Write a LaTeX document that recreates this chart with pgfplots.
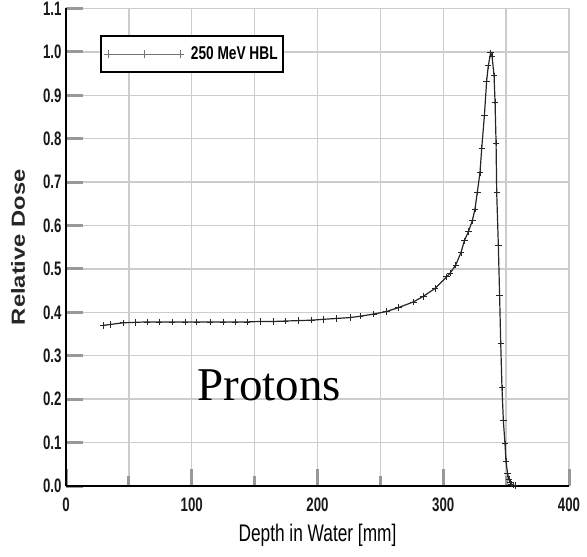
\documentclass[border=0pt]{standalone}
\usepackage{pgfplots}
\pgfplotsset{compat=1.18}
\usepackage{fontspec}
\setmainfont{Liberation Sans}
\newfontfamily\narrowsans[FakeStretch=0.68]{Liberation Sans}
\newfontfamily\legsans[FakeStretch=0.74]{Liberation Sans}
\newfontfamily\labsans[FakeStretch=0.72]{Liberation Sans}
\newfontfamily\widesans[FakeStretch=1.25]{Liberation Sans}
\newfontfamily\protfont{Liberation Serif}
\usetikzlibrary{calc}

\pgfplotstableread{
x y
29.4 0.370
35.0 0.372
45.3 0.376
54.9 0.377
64.4 0.378
74.0 0.378
84.3 0.378
94.6 0.378
104.0 0.378
114.5 0.378
124.9 0.378
134.4 0.378
144.0 0.378
154.3 0.379
164.9 0.379
174.2 0.380
184.7 0.381
195.4 0.382
204.6 0.384
215.3 0.386
225.9 0.388
233.8 0.391
244.4 0.396
255.0 0.402
264.3 0.411
276.2 0.424
284.2 0.437
293.4 0.455
302.7 0.482
305.4 0.490
309.9 0.509
314.1 0.538
316.8 0.565
320.0 0.586
323.1 0.611
325.2 0.638
327.1 0.677
329.2 0.722
330.6 0.778
332.7 0.853
334.5 0.933
335.8 0.968
337.7 0.998
338.8 0.990
340.4 0.945
341.2 0.883
342.0 0.790
342.5 0.677
343.8 0.555
344.8 0.440
345.7 0.329
346.7 0.226
347.8 0.150
349.1 0.097
349.9 0.056
351.2 0.029
352.2 0.015
353.0 0.008
354.0 0.004
355.5 0.002
357.0 0.001
}\dosedata

\begin{document}
\begin{tikzpicture}
\begin{axis}[
  scale only axis,
  width=503pt, height=477.5pt,
  xmin=0, xmax=400, ymin=0, ymax=1.1,
  xtick distance=100, ytick distance=0.1,
  minor x tick num=1,
  axis x line*=bottom, axis y line*=left,
  axis line style={-, line width=2.6pt, black},
  tick align=inside,
  major tick length=17pt, minor tick length=10pt,
  every tick/.style={line width=3pt, black!40},
  grid=both,
  major grid style={line width=1.4pt, black!20},
  minor grid style={line width=1.4pt, black!20},
  /pgf/number format/assume math mode=true,
  yticklabel style={/pgf/number format/fixed, /pgf/number format/fixed zerofill, /pgf/number format/precision=1, xshift=-1pt},
  xticklabel style={yshift=-8pt},
  tick label style={font=\narrowsans\bfseries\fontsize{19.5}{22}\selectfont, text=black!90},
  xlabel={Depth in Water [mm]},
  xlabel style={font=\labsans\fontsize{24}{26}\selectfont, text=black, at={(axis description cs:0.5,-0.1026)}, anchor=center},
  ylabel={Relative Dose},
  ylabel style={font=\widesans\bfseries\fontsize{19}{22}\selectfont, text=black!85, at={(axis description cs:-0.0954,0.5)}, anchor=center},
  legend style={at={(0.0676,0.9445)}, anchor=north west, draw=black, line width=1.8pt,
    font=\legsans\bfseries\fontsize{18.5}{21}\selectfont, inner xsep=3pt, inner ysep=9pt},
  legend cell align=left,
  legend image code/.code={\draw[line width=1pt, black!55, mark=+, mark size=4pt, mark repeat=1, mark options={line width=0.8pt}] plot coordinates {(0pt,0pt) (36pt,0pt) (72pt,0pt)};},
]
\addplot[black!85, line width=1.2pt, mark=+, mark size=3.2pt, mark options={line width=0.8pt}] table {\dosedata};
\addlegendentry{\hspace{5pt}250 MeV HBL}
\node[anchor=base, font=\protfont\fontsize{47}{50}\selectfont] at (axis cs:161.8,0.198) {Protons};
\coordinate (bl) at (rel axis cs:0,0);
\coordinate (tr) at (rel axis cs:1,1);
\end{axis}
\pgfresetboundingbox
\path ($(bl)+(-66pt,-70pt)$) rectangle ($(tr)+(18pt,8.5pt)$);
\end{tikzpicture}
\end{document}
